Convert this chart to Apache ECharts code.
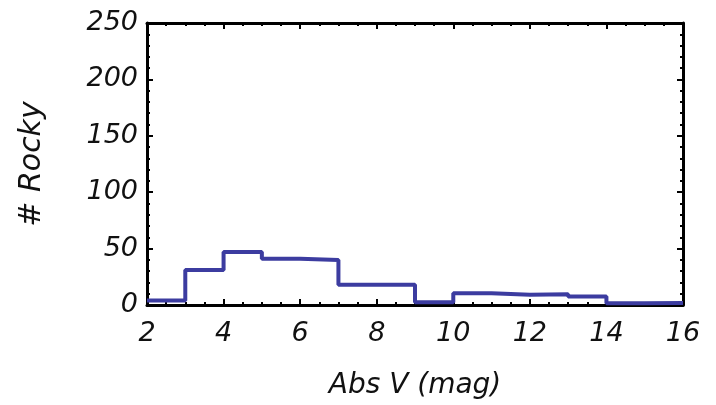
<!DOCTYPE html>
<html>
<head>
<meta charset="utf-8">
<script src="https://cdn.jsdelivr.net/npm/echarts@6/dist/echarts.min.js"></script>
<style>
html,body{margin:0;padding:0;background:#fff;}
#chart{width:716px;height:405px;}
</style>
</head>
<body>
<div id="chart"></div>
<script>
// Histogram bins (Abs V, mag) and counts
var binStarts = [2, 3, 4, 5, 6, 7, 8, 9, 10, 11, 12, 13, 14, 15];
var binEnd = 16;
var counts = [4, 31, 47, 41, 40, 18, 18, 2.5, 10.5, 9, 9.5, 7.5, 1.5, 1.8];
var xTicks = [2, 4, 6, 8, 10, 12, 14, 16];
var yTicks = [0, 50, 100, 150, 200, 250];
var xTitle = 'Abs V (mag)';
var yTitle = '# Rocky';

var stepData = binStarts.map(function (x, i) { return [x, counts[i]]; });
stepData.push([binEnd, counts[counts.length - 1]]);

var font = 'DejaVu Sans';
var labelStyle = { color: '#111', fontSize: 27, fontStyle: 'italic', fontFamily: font };
var titleStyle = { color: '#111', fontSize: 28, fontStyle: 'italic', fontFamily: font };
function tickCfg(len) { return { show: true, inside: true, length: len, lineStyle: { color: '#000', width: 2 } }; }
function minorCfg(n) { return { show: true, splitNumber: n, length: 3, lineStyle: { color: '#000', width: 2 } }; }
var axLine = { show: true, onZero: false, lineStyle: { color: '#000', width: 3 } };

var chart = echarts.init(document.getElementById('chart'), null, { renderer: 'canvas' });
chart.setOption({
  animation: false,
  backgroundColor: '#fff',
  grid: { left: 147, right: 33, top: 23, bottom: 99 },
  xAxis: [
    {
      type: 'value', min: xTicks[0], max: xTicks[xTicks.length - 1], interval: 2,
      axisLine: axLine, axisTick: tickCfg(6), minorTick: minorCfg(4),
      splitLine: { show: false },
      axisLabel: Object.assign({ margin: 15 }, labelStyle),
      name: xTitle, nameLocation: 'middle', nameGap: 67,
      nameTextStyle: titleStyle
    },
    {
      type: 'value', position: 'top', min: xTicks[0], max: xTicks[xTicks.length - 1], interval: 2,
      axisLine: axLine, axisTick: tickCfg(6), minorTick: minorCfg(4),
      splitLine: { show: false }, axisLabel: { show: false }
    }
  ],
  yAxis: [
    {
      type: 'value', min: yTicks[0], max: yTicks[yTicks.length - 1], interval: 50,
      axisLine: axLine, axisTick: tickCfg(6), minorTick: minorCfg(5),
      splitLine: { show: false },
      axisLabel: Object.assign({ margin: 9 }, labelStyle),
      name: yTitle, nameLocation: 'middle', nameGap: 100, nameRotate: 90,
      nameTextStyle: { color: '#111', fontSize: 30, fontStyle: 'italic', fontFamily: font }
    },
    {
      type: 'value', position: 'right', min: yTicks[0], max: yTicks[yTicks.length - 1], interval: 50,
      axisLine: axLine, axisTick: tickCfg(6), minorTick: minorCfg(5),
      splitLine: { show: false }, axisLabel: { show: false }
    }
  ],
  series: [{
    type: 'line', step: 'end', data: stepData, symbol: 'none',
    xAxisIndex: 0, yAxisIndex: 0,
    lineStyle: { color: '#3c3ca0', width: 4 }
  }]
});
</script>
</body>
</html>
